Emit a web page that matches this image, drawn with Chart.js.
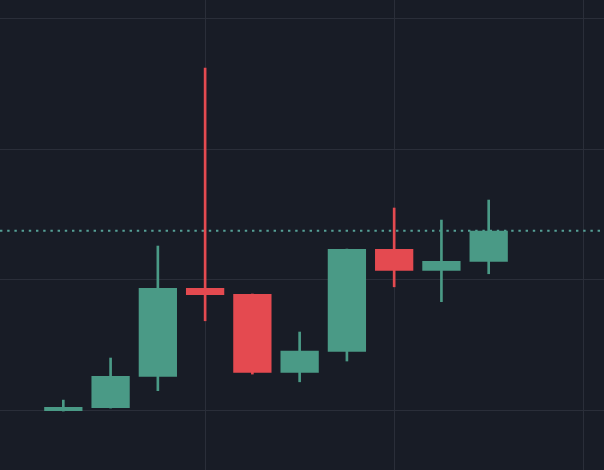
<!DOCTYPE html>
<html>
<head>
<meta charset="utf-8">
<script src="https://cdn.jsdelivr.net/npm/chart.js@4.4.1/dist/chart.umd.min.js"></script>
<style>
  html, body { margin: 0; padding: 0; background: #181c26; }
  #caja { width: 604px; height: 470px; position: relative; }
</style>
</head>
<body>
<div id="caja"><canvas id="grafico"></canvas></div>
<script>
// velas (indice, apertura, maximo, minimo, cierre)
const indices  = [1, 2, 3, 4, 5, 6, 7, 8, 9, 10];
const aperturas = [99.96, 100.19, 102.58, 109.37, 108.92, 102.89, 104.50, 112.36, 110.70, 111.39];
const maximos   = [100.80, 104.02, 112.59, 126.21, 108.92, 106.01, 112.36, 115.50, 114.58, 116.11];
const minimos   = [99.96, 100.19, 101.52, 106.87, 102.79, 102.20, 103.79, 109.47, 108.33, 110.47];
const cierres   = [100.27, 102.64, 109.37, 108.84, 102.89, 104.58, 112.36, 110.70, 111.44, 113.76];

// lineas de la cuadricula
const ticksX = [4, 8, 12];
const ticksY = [100, 110, 120, 130];

const xMin = -0.34, xMax = 12.44;
const yMin = 95.45, yMax = 131.42;

const verde = '#4a9a86';
const rojo = '#e44a50';

const colorVela = (i) => cierres[i] >= aperturas[i] ? verde : rojo;

const ultimoCierre = cierres[cierres.length - 1];

const ctx = document.getElementById('grafico').getContext('2d');

window.graficaVelas = new Chart(ctx, {
    type: 'bar',
    data: {
        datasets: [
            {
                label: 'cuerpo',
                data: indices.map((x, i) => ({ x: x, y: [aperturas[i], cierres[i]] })),
                backgroundColor: indices.map((x, i) => colorVela(i)),
                borderWidth: 0,
                grouped: false,
                categoryPercentage: 1,
                barPercentage: 0.81,
                order: 1
            },
            {
                label: 'mecha',
                data: indices.map((x, i) => ({ x: x, y: [minimos[i], maximos[i]] })),
                backgroundColor: indices.map((x, i) => colorVela(i)),
                borderWidth: 0,
                grouped: false,
                barThickness: 2,
                order: 2
            },
            {
                type: 'line',
                label: 'precio',
                data: [{ x: xMin, y: ultimoCierre }, { x: xMax, y: ultimoCierre }],
                borderColor: '#55a096',
                borderWidth: 2,
                borderDash: [2.4, 4.8],
                pointRadius: 0,
                order: 3
            }
        ]
    },
    options: {
        responsive: true,
        maintainAspectRatio: false,
        animation: false,
        layout: { padding: 0 },
        plugins: {
            legend: { display: false },
            tooltip: { enabled: false }
        },
        scales: {
            x: {
                type: 'linear',
                min: xMin,
                max: xMax,
                offset: false,
                afterBuildTicks: (eje) => { eje.ticks = ticksX.map(v => ({ value: v })); },
                ticks: { display: false },
                border: { display: false },
                grid: { color: '#2a2e39', lineWidth: 1, drawTicks: false, offset: false }
            },
            y: {
                min: yMin,
                max: yMax,
                afterBuildTicks: (eje) => { eje.ticks = ticksY.map(v => ({ value: v })); },
                ticks: { display: false },
                border: { display: false },
                grid: { color: '#2a2e39', lineWidth: 1, drawTicks: false }
            }
        }
    }
});
</script>
</body>
</html>
